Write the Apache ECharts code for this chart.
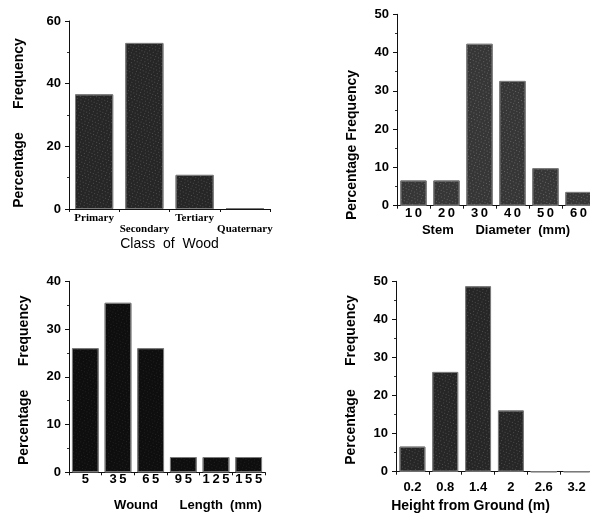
<!DOCTYPE html>
<html>
<head>
<meta charset="utf-8">
<script src="https://cdn.jsdelivr.net/npm/echarts@6/dist/echarts.min.js"></script>
<style>html,body{margin:0;padding:0;background:#fff;}#c{width:590px;height:516px;}</style>
</head>
<body>
<div id="c"></div>
<script>
// ---- data ----
const woodClasses = ['Primary', 'Secondary', 'Tertiary', 'Quaternary'];
const woodPct = [36.6, 53.0, 10.9, 0.3];
const stemDiameters = ['10', '20', '30', '40', '50', '60'];
const stemPct = [6.6, 6.6, 42.3, 32.6, 9.8, 3.6];
const woundLengths = ['5', '35', '65', '95', '125', '155'];
const woundPct = [26.0, 35.5, 26.0, 3.2, 3.2, 3.2];
const groundHeights = ['0.2', '0.8', '1.4', '2', '2.6', '3.2'];
const heightPct = [6.6, 26.2, 48.7, 16.1, 0, 0];

const SANS = '"Liberation Sans", Arial, sans-serif';
const SERIF = '"Liberation Serif", "Times New Roman", serif';
const spaced = v => String(v).split('').join('\u2009');

function yAx(gridIndex, max, interval, gap, name, pad) {
  return {
    type: 'value', gridIndex, min: 0, max, interval,
    splitLine: { show: false },
    axisLine: { show: true, lineStyle: { color: '#111', width: 1 } },
    axisTick: { show: true, length: 4, lineStyle: { color: '#111' } },
    minorTick: { show: true, splitNumber: 2, length: 2, lineStyle: { color: '#333' } },
    axisLabel: { margin: 8, color: '#000', fontFamily: SANS, fontWeight: 'bold', fontSize: 13 },
    name, nameLocation: 'middle', nameGap: gap,
    nameTextStyle: { color: '#000', fontFamily: SANS, fontWeight: 'bold', fontSize: 14, padding: pad }
  };
}
function xAx(gridIndex, data, labelOpt, name, gap, nameStyle) {
  return {
    type: 'category', gridIndex, data,
    axisLine: { show: true, lineStyle: { color: '#111', width: 1 } },
    axisTick: { show: true, length: 3, lineStyle: { color: '#111' } },
    axisLabel: Object.assign({ color: '#000', interval: 0 }, labelOpt),
    name, nameLocation: 'middle', nameGap: gap,
    nameTextStyle: Object.assign({ color: '#000', fontFamily: SANS, fontWeight: 'bold', fontSize: 13 }, nameStyle)
  };
}
function barSeries(i, data, width, color, speck) {
  return {
    type: 'bar', xAxisIndex: i, yAxisIndex: i, data, barWidth: width,
    itemStyle: {
      color, borderColor: '#7a7a7a', borderWidth: 1,
      decal: {
        symbol: 'rect', symbolSize: 1, color: speck,
        dashArrayX: [[1, 2], [0, 1, 1, 2]], dashArrayY: [1, 2], rotation: 0.4
      }
    },
    animation: false
  };
}

const chart = echarts.init(document.getElementById('c'), null, { renderer: 'canvas' });
chart.setOption({
  backgroundColor: '#fff',
  animation: false,
  aria: { enabled: true, decal: { show: true } },
  grid: [
    { left: 69, top: 21, width: 201, height: 188, outerBoundsMode: 'none', containLabel: false },
    { left: 397, top: 14.3, width: 198, height: 191.4, outerBoundsMode: 'none', containLabel: false },
    { left: 69, top: 281.3, width: 196, height: 191, outerBoundsMode: 'none', containLabel: false },
    { left: 396, top: 281.3, width: 197, height: 190.4, outerBoundsMode: 'none', containLabel: false }
  ],
  xAxis: [
    xAx(0, woodClasses, {
      margin: 4, fontFamily: SERIF, fontWeight: 'bold', fontSize: 11, lineHeight: 11,
      formatter: (v, i) => (i % 2 === 1 ? '\n' + v : v)
    }, 'Class  of  Wood', 28, { fontSize: 14, fontWeight: 'normal' }),
    xAx(1, stemDiameters, {
      margin: 1, fontFamily: SANS, fontWeight: 'bold', fontSize: 13, formatter: spaced
    }, 'Stem      Diameter  (mm)', 18, {}),
    xAx(2, woundLengths, {
      margin: 1, fontFamily: SANS, fontWeight: 'bold', fontSize: 13, formatter: spaced
    }, 'Wound      Length  (mm)', 27, { padding: [0, 0, 0, 42] }),
    xAx(3, groundHeights, {
      margin: 9, fontFamily: SANS, fontWeight: 'bold', fontSize: 13
    }, 'Height from Ground (m)', 27, { fontSize: 14, padding: [0, 48, 0, 0] })
  ],
  yAxis: [
    yAx(0, 60, 20, 43, 'Percentage      Frequency', [0, 16, 0, 0]),
    yAx(1, 50, 10, 38, 'Percentage Frequency', [0, 70, 0, 0]),
    yAx(2, 40, 10, 38, 'Percentage      Frequency', [0, 7, 0, 0]),
    yAx(3, 50, 10, 38, 'Percentage      Frequency', [0, 7, 0, 0])
  ],
  series: [
    barSeries(0, woodPct, '76%', '#262626', 'rgba(255,255,255,0.18)'),
    barSeries(1, stemPct, '80%', '#363636', 'rgba(255,255,255,0.22)'),
    barSeries(2, woundPct, '82%', '#0e0e0e', 'rgba(255,255,255,0.08)'),
    barSeries(3, heightPct, '79%', '#262626', 'rgba(255,255,255,0.18)')
  ]
});
</script>
</body>
</html>
